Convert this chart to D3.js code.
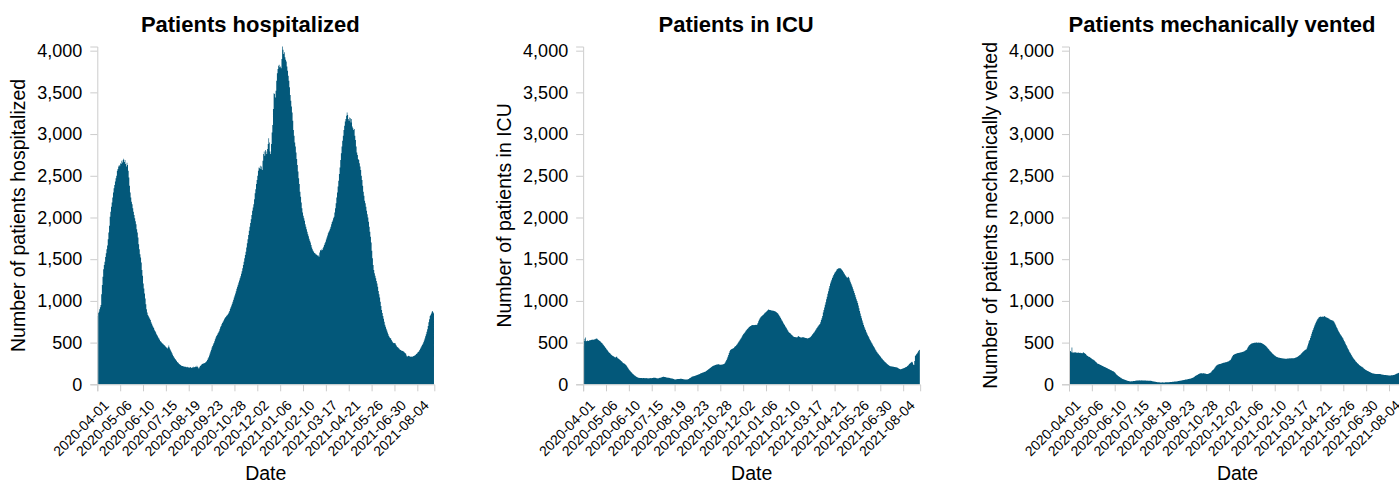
<!DOCTYPE html>
<html>
<head>
<meta charset="utf-8">
<script src="https://cdn.jsdelivr.net/npm/d3@7"></script>
<style>
  body { margin: 0; background: #fff; overflow: hidden; }
  text { font-family: "Liberation Sans", Arial, Helvetica, sans-serif; }
</style>
</head>
<body>
<div id="chart"></div>
<script>
// first day of the daily series
var startDate = "2020-04-01";

// labelled dates on the x axis
var tickLabels = ["2020-04-01","2020-05-06","2020-06-10","2020-07-15","2020-08-19","2020-09-23","2020-10-28",
  "2020-12-02","2021-01-06","2021-02-10","2021-03-17","2021-04-21","2021-05-26","2021-06-30","2021-08-04"];

var yTicks = [0, 500, 1000, 1500, 2000, 2500, 3000, 3500, 4000];

var titles = ["Patients hospitalized", "Patients in ICU", "Patients mechanically vented"];
var yTitles = ["Number of patients hospitalized", "Number of patients in ICU", "Number of patients mechanically vented"];

// daily counts, one value per day from startDate
var hospitalized = [
  820,855,870,900,925,950,1080,1190,1290,1380,
  1430,1470,1525,1570,1620,1665,1740,1820,1900,2010,
  2070,2130,2180,2240,2300,2350,2390,2430,2470,2500,
  2560,2580,2610,2630,2615,2650,2640,2680,2660,2690,
  2705,2665,2690,2640,2610,2655,2630,2560,2480,2380,
  2300,2240,2190,2160,2110,2070,2030,1990,1955,1920,
  1860,1820,1760,1680,1620,1560,1520,1460,1370,1300,
  1210,1150,1090,1030,960,900,860,830,815,800,
  785,770,745,725,705,690,675,655,640,625,
  605,590,575,560,550,535,520,510,500,492,
  485,478,470,462,452,445,438,430,445,465,
  440,420,405,390,372,355,340,325,312,302,
  290,278,268,260,252,244,236,230,225,220,
  218,215,212,210,212,208,205,210,203,200,
  204,198,206,200,196,205,199,210,203,208,
  214,207,222,210,200,188,205,220,226,234,
  242,246,250,252,255,260,268,280,292,308,
  325,345,370,392,415,440,460,478,495,515,
  540,560,578,592,608,622,636,660,685,700,
  720,735,750,765,780,795,808,815,825,835,
  845,860,880,905,925,945,965,990,1015,1040,
  1065,1090,1115,1145,1170,1195,1220,1245,1270,1295,
  1325,1355,1390,1430,1470,1510,1550,1590,1640,1690,
  1740,1790,1840,1890,1935,1980,2030,2080,2120,2160,
  2220,2290,2340,2400,2450,2500,2560,2600,2590,2620,
  2580,2610,2570,2680,2760,2790,2740,2810,2790,2760,
  2820,2880,2950,2900,2790,2760,2880,3020,3110,3300,
  3490,3480,3440,3520,3640,3730,3780,3820,3830,3800,
  3810,3790,3900,4050,4010,3960,3980,3920,3890,3870,
  3810,3760,3700,3640,3560,3470,3400,3330,3260,3160,
  3050,2980,2900,2850,2780,2700,2630,2550,2470,2400,
  2310,2250,2180,2110,2060,2020,1990,1960,1920,1890,
  1860,1830,1800,1775,1745,1720,1700,1670,1640,1620,
  1600,1590,1575,1570,1560,1555,1550,1540,1545,1530,
  1580,1610,1600,1615,1610,1630,1650,1670,1690,1710,
  1735,1760,1785,1810,1830,1845,1865,1890,1920,1945,
  1965,1990,2010,2060,2110,2170,2240,2300,2370,2440,
  2520,2600,2690,2770,2850,2920,2980,3050,3100,3150,
  3180,3220,3260,3230,3180,3160,3200,3190,3140,3180,
  3090,3070,3050,3060,2980,2930,2850,2780,2750,2700,
  2690,2650,2610,2570,2500,2450,2380,2310,2260,2200,
  2170,2130,2080,2040,2000,1950,1890,1830,1770,1700,
  1600,1510,1430,1370,1330,1300,1270,1240,1210,1170,
  1120,1080,1040,990,940,890,855,820,785,750,
  715,690,665,645,620,600,580,565,555,550,
  530,515,505,495,492,495,490,470,455,448,
  440,432,425,415,410,405,403,400,397,390,
  382,375,365,345,330,340,342,338,332,330,
  334,331,330,336,339,343,348,355,362,370,
  380,388,395,410,425,440,455,470,485,505,
  525,550,575,600,630,660,700,745,780,820,
  835,850,870,880,860,850
];

var icu = [
  460,520,545,560,515,520,525,522,518,525,
  530,528,533,530,536,532,540,537,541,545,
  550,545,538,532,525,520,512,505,496,488,
  478,468,458,446,435,425,415,405,394,385,
  376,368,360,352,345,340,335,330,324,322,
  328,332,318,310,305,300,292,285,278,270,
  262,256,250,245,240,232,222,210,198,187,
  175,165,155,146,138,130,122,115,108,102,
  96,91,87,83,80,78,77,76,75,76,
  74,75,76,73,75,74,76,72,73,71,
  72,74,73,75,74,76,77,78,79,80,
  78,76,74,72,71,73,75,78,80,83,
  86,89,91,90,88,87,85,83,81,80,
  79,78,76,74,72,71,70,68,65,62,
  59,58,60,62,63,64,63,65,66,67,
  67,65,63,61,60,59,58,57,58,59,
  60,64,70,75,80,86,90,93,96,98,
  100,103,106,109,112,115,118,121,124,128,
  131,134,137,140,143,146,149,154,160,165,
  170,176,182,188,194,200,206,212,218,222,
  225,228,232,235,238,238,240,239,236,235,
  233,234,236,238,240,244,250,260,275,291,
  310,330,350,375,395,410,418,422,426,430,
  436,445,452,460,468,476,488,500,512,524,
  536,548,560,575,590,602,612,622,633,645,
  655,663,672,680,688,695,700,704,707,710,
  712,708,712,710,714,711,718,735,755,775,
  790,800,810,818,826,832,840,850,858,865,
  870,878,888,898,895,892,890,888,885,884,
  883,882,880,877,873,868,862,855,845,835,
  822,810,795,780,765,752,738,724,710,697,
  684,671,658,645,631,622,615,608,600,592,
  584,576,571,568,566,564,563,562,570,579,
  572,566,563,560,562,564,565,563,560,558,
  556,554,551,549,552,555,558,563,570,580,
  592,603,611,622,634,646,658,671,682,694,
  704,714,723,745,770,791,820,860,890,920,
  955,985,1020,1050,1085,1115,1148,1180,1210,1232,
  1254,1274,1292,1310,1325,1340,1350,1362,1375,1382,
  1388,1390,1392,1390,1388,1380,1370,1358,1345,1330,
  1318,1306,1294,1282,1278,1284,1290,1270,1245,1225,
  1205,1185,1165,1140,1118,1095,1070,1045,1020,1000,
  975,945,912,880,850,820,793,766,739,711,
  690,670,650,630,611,595,579,563,547,531,
  516,502,488,474,459,446,432,418,404,391,
  380,370,360,350,339,329,319,309,300,291,
  282,274,266,258,251,244,237,230,224,219,
  217,215,213,212,211,210,208,206,205,203,
  201,198,193,188,183,179,181,184,187,190,
  191,194,198,203,207,211,218,226,234,243,
  251,258,265,271,262,238,231,280,339,350,
  362,371,385,400,411,415
];

var vented = [
  320,395,400,385,440,380,378,384,380,385,
  382,378,381,376,380,379,374,378,372,375,
  371,378,383,376,368,362,355,345,338,334,
  330,326,322,316,310,303,298,293,289,282,
  274,266,258,250,246,243,239,235,231,227,
  223,219,215,211,208,204,200,196,192,188,
  184,180,176,172,168,164,160,156,152,146,
  138,130,121,112,106,100,94,88,83,78,
  73,68,64,60,57,54,51,48,45,43,
  41,39,37,36,35,36,37,38,39,39,
  41,42,44,45,46,47,47,48,47,46,
  47,48,46,47,47,46,45,46,44,45,
  44,43,44,43,43,42,40,38,37,35,
  33,31,30,29,27,26,25,24,24,23,
  23,22,23,24,23,23,22,24,25,24,
  25,26,25,26,27,27,28,29,30,31,
  32,33,34,35,35,36,38,39,41,42,
  43,45,46,48,50,51,53,55,57,59,
  59,61,63,65,66,67,69,72,75,79,
  83,88,94,100,105,110,112,118,122,127,
  130,131,132,131,130,131,131,130,128,126,
  124,123,124,126,130,135,139,145,155,165,
  172,180,190,200,212,222,228,233,238,241,
  242,243,245,248,252,255,257,259,261,263,
  265,267,270,273,277,281,287,295,310,325,
  340,350,355,360,362,366,370,372,374,376,
  378,379,381,383,385,388,390,393,397,402,
  407,411,420,438,451,462,471,478,484,488,
  491,493,495,497,498,499,500,501,499,498,
  500,499,499,497,494,491,487,483,478,472,
  465,458,451,442,432,422,413,403,395,387,
  378,370,363,355,348,341,335,331,327,323,
  320,319,318,316,314,312,311,310,309,308,
  307,306,307,307,308,309,310,311,310,311,
  312,311,311,311,313,315,317,320,323,328,
  334,340,346,351,358,366,375,383,391,398,
  405,411,416,419,440,465,490,515,531,555,
  580,605,630,651,672,693,713,733,750,765,
  780,790,800,808,810,812,808,814,810,810,
  812,818,810,805,802,798,794,790,785,778,
  775,772,769,766,762,752,740,725,708,690,
  674,658,642,627,611,599,587,575,563,551,
  535,519,503,487,471,455,439,423,407,391,
  378,365,351,337,323,313,302,292,281,271,
  263,255,247,239,231,225,220,214,209,203,
  197,190,184,178,171,167,163,159,155,151,
  147,143,139,135,131,129,128,126,125,123,
  123,123,124,123,122,123,123,121,119,117,
  115,114,113,112,111,111,110,109,108,107,
  107,106,107,108,109,110,111,113,116,119,
  122,125,128,131,135,140,146,152,160,168,
  176,185,195,205,215,224
];

var series = [hospitalized, icu, vented];
var barColor = "#03587a";
var axisColor = "#cccccc";

// sizes of each panel
var plotLeft = 97.3,
    panelStep = 485.85,
    plotTop = 46.5,
    plotBottom = 384.3,
    plotWidth = 337;

var parseDay = d3.utcParse("%Y-%m-%d"),
    formatDay = d3.utcFormat("%Y-%m-%d");
var first = parseDay(startDate);
var days = d3.utcDay.range(first, d3.utcDay.offset(first, hospitalized.length)).map(formatDay);

var svg = d3.select("#chart").append("svg")
    .attr("width", 1420)
    .attr("height", 484);

var y = d3.scaleLinear()
    .domain([0, d3.max(hospitalized)])
    .range([plotBottom, plotTop]);

series.forEach(function(values, i) {
  var x0 = plotLeft + i * panelStep;
  var g = svg.append("g");

  var x = d3.scaleBand()
      .domain(days)
      .range([x0, x0 + plotWidth])
      .padding(0);

  var rows = values.map(function(v, k) { return {date: days[k], value: v}; });

  // daily bars, drawn as one stepped shape so neighbours do not leave seams
  var area = d3.area()
      .curve(d3.curveStep)
      .x(function(d) { return x(d.date) + x.bandwidth() / 2; })
      .y0(y(0))
      .y1(function(d) { return y(d.value); });

  g.append("path")
      .datum(rows)
      .attr("fill", barColor)
      .attr("d", area);

  // y axis
  var yAxis = g.append("g")
      .attr("transform", "translate(" + x0 + ",0)")
      .call(d3.axisLeft(y)
        .tickValues(yTicks)
        .tickFormat(d3.format(","))
        .tickSize(7)
        .tickSizeOuter(7)
        .tickPadding(8));
  yAxis.selectAll("text")
      .attr("fill", "#000")
      .style("font-size", "18px");

  // x axis
  var xAxis = g.append("g")
      .attr("transform", "translate(0," + plotBottom + ")")
      .call(d3.axisBottom(x)
        .tickValues(tickLabels)
        .tickSize(7)
        .tickSizeOuter(7));
  xAxis.selectAll("text")
      .attr("fill", "#000")
      .attr("y", 0)
      .attr("dy", 0)
      .attr("text-anchor", "end")
      .attr("transform", "translate(12,22) rotate(-45)")
      .style("font-size", "14px");

  svg.selectAll(".domain").attr("stroke", axisColor);
  svg.selectAll(".tick line").attr("stroke", axisColor);

  // titles
  g.append("text")
      .attr("x", x0 + plotWidth / 2 - 15.5)
      .attr("y", 31.5)
      .attr("text-anchor", "middle")
      .style("font-size", "22px")
      .style("font-weight", "bold")
      .text(titles[i]);

  g.append("text")
      .attr("transform", "translate(" + (x0 - 72) + "," + ((plotTop + plotBottom) / 2) + ") rotate(-90)")
      .attr("text-anchor", "middle")
      .style("font-size", "19.5px")
      .text(yTitles[i]);

  g.append("text")
      .attr("x", x0 + plotWidth / 2)
      .attr("y", 480)
      .attr("text-anchor", "middle")
      .style("font-size", "19.5px")
      .text("Date");
});
</script>
</body>
</html>
